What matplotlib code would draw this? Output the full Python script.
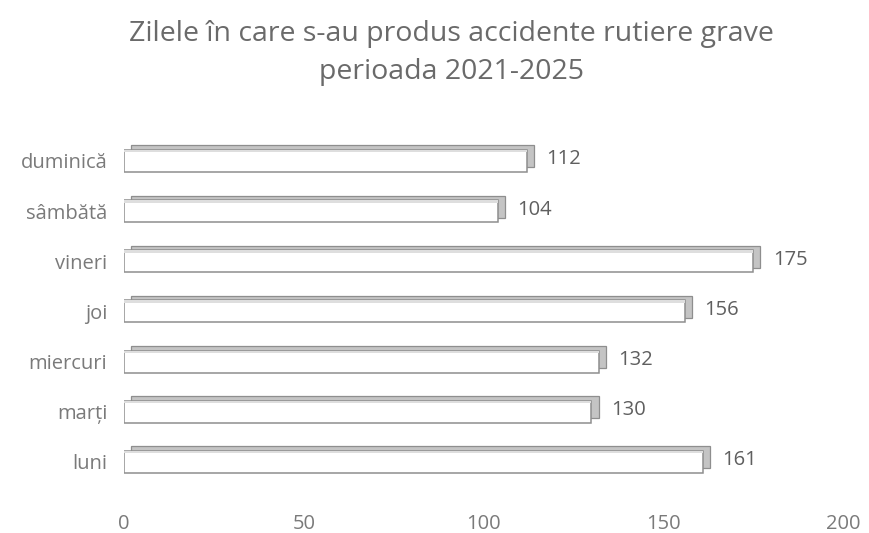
import matplotlib
matplotlib.use("Agg")
import matplotlib.pyplot as plt
import numpy as np

days = ["luni", "marți", "miercuri", "joi", "vineri", "sâmbătă", "duminică"]
counts = [161, 130, 132, 156, 175, 104, 112]
xticks = [0, 50, 100, 150, 200]
title = "Zilele în care s-au produs accidente rutiere grave\nperioada 2021-2025"

plt.rcParams['font.family'] = ['Open Sans', 'DejaVu Sans']

fig = plt.figure(figsize=(8.69, 5.33), dpi=100)
ax = fig.add_axes([0.1427, 0.0675, 0.8274, 0.687])

y = np.arange(len(days))
h = 0.44
depth_x = 2.0
depth_y = 0.09
# 3D-like depth: top and right faces
ax.barh(y + depth_y, counts, height=h, left=depth_x, color="#c4c4c4",
        edgecolor="#8e8e8e", linewidth=0.9, zorder=1)
ax.barh(y, counts, height=h, color="white", edgecolor="#8e8e8e",
        linewidth=1.1, zorder=2)
ax.barh(y + h / 2 - 0.025, counts, height=0.05, color="#dedede",
        edgecolor="none", zorder=3)

for yi, v in zip(y, counts):
    ax.text(v + depth_x + 3.5, yi + 0.03, str(v), va="center", ha="left",
            fontsize=14.5, color="#5f5f5f")

ax.set_xlim(0, 200)
ax.set_ylim(-0.7, 6.6)
ax.set_xticks(xticks)
ax.set_yticks(y)
ax.set_yticklabels(days)
ax.tick_params(axis="both", length=0, colors="#7a7a7a", labelsize=14.5)
ax.tick_params(axis="x", pad=12)
ax.tick_params(axis="y", pad=12)
for s in ax.spines.values():
    s.set_visible(False)

fig.text(0.52, 0.962, title, ha="center", va="top", fontsize=20.5,
         color="#6a6a6a", linespacing=1.45)

fig.savefig("out.png", dpi=100)
